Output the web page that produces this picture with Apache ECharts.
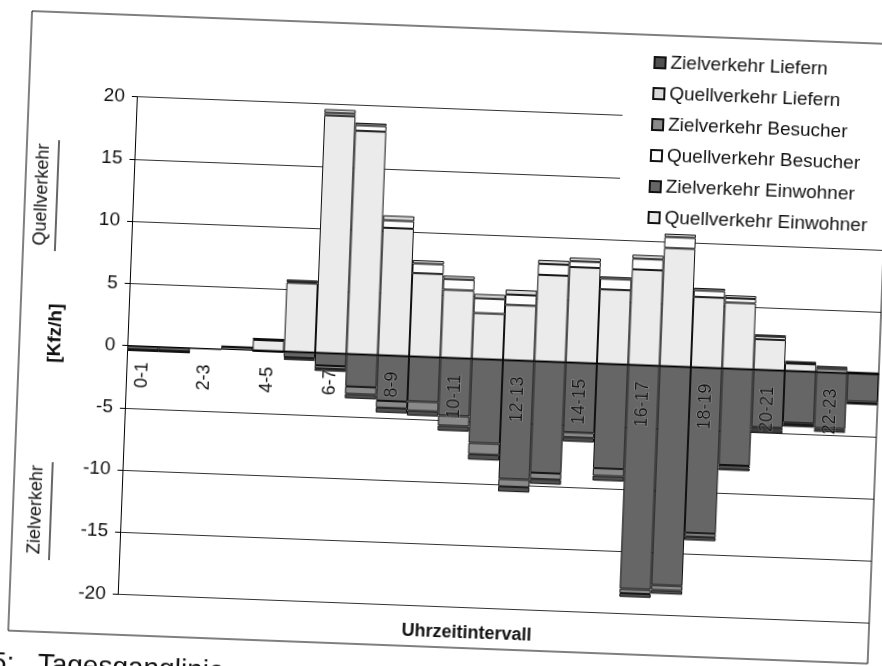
<!DOCTYPE html>
<html>
<head>
<meta charset="utf-8">
<script src="https://cdn.jsdelivr.net/npm/echarts@6/dist/echarts.min.js"></script>
<style>
  html, body { margin: 0; padding: 0; background: #fff; overflow: hidden; width: 882px; height: 666px; }
  #c { position: absolute; left: 0; top: 0; width: 882px; height: 720px;
       transform: rotate(2.2deg); transform-origin: 441px 333px; }
</style>
</head>
<body>
<div id="c"></div>
<script>
// ---- data ----
const categories = ['0-1','1-2','2-3','3-4','4-5','5-6','6-7','7-8','8-9','9-10','10-11','11-12',
                    '12-13','13-14','14-15','15-16','16-17','17-18','18-19','19-20','20-21','21-22','22-23','23-24'];
const qvEinwohner = [0, 0, 0, 0.2, 0.85, 5.55, 19.1, 17.95, 10.25, 6.7, 5.47, 3.69, 4.44, 6.95, 7.67, 5.98, 7.68, 9.5, 5.66, 5.31, 2.46, 0.6, 0.25, 0.05];
const qvBesucher  = [0, 0, 0, 0.03, 0.08, 0.1, 0.2, 0.45, 0.6, 0.78, 0.86, 1.19, 0.83, 0.88, 0.47, 0.86, 0.86, 0.88, 0.53, 0.35, 0.25, 0.1, 0.15, 0.03];
const qvLiefern   = [0, 0, 0, 0.02, 0.07, 0.15, 0.3, 0.2, 0.4, 0.27, 0.27, 0.35, 0.4, 0.32, 0.3, 0.18, 0.32, 0.27, 0.2, 0.24, 0.13, 0.1, 0.1, 0.03];
const zvEinwohner = [-0.3, -0.3, 0, 0, -0.05, -0.45, -1.0, -2.6, -3.65, -3.6, -4.65, -6.75, -9.55, -8.95, -5.6, -8.4, -18.0, -17.6, -13.3, -7.75, -4.6, -4.15, -4.5, -2.25];
const zvBesucher  = [-0.05, -0.05, 0, 0, 0, -0.1, -0.25, -0.6, -0.55, -0.75, -0.8, -0.9, -0.6, -0.5, -0.4, -0.6, -0.35, -0.4, -0.3, -0.2, -0.2, -0.15, -0.15, -0.12];
const zvLiefern   = [-0.05, -0.05, 0, 0, -0.03, -0.1, -0.2, -0.36, -0.4, -0.4, -0.42, -0.45, -0.42, -0.4, -0.35, -0.4, -0.3, -0.3, -0.3, -0.23, -0.25, -0.18, -0.15, -0.12];
const seriesNames = ['Quellverkehr Einwohner','Zielverkehr Einwohner','Quellverkehr Besucher',
                     'Zielverkehr Besucher','Quellverkehr Liefern','Zielverkehr Liefern'];
const legendOrder = ['Zielverkehr Liefern','Quellverkehr Liefern','Zielverkehr Besucher',
                     'Quellverkehr Besucher','Zielverkehr Einwohner','Quellverkehr Einwohner'];
const yTicks = { min: -20, max: 20, interval: 5 };
const yAxisTitle = '[Kfz/h]';
const xAxisTitle = 'Uhrzeitintervall';

// ---- chart ----
const FONT = '"Liberation Sans", Arial, sans-serif';
const fills = ['#ebebeb', '#666666', '#fdfdfd', '#8a8a8a', '#d9d9d9', '#505050'];
const values = [qvEinwohner, zvEinwohner, qvBesucher, zvBesucher, qvLiefern, zvLiefern];

const gridTop = 108.6, gridBottom = 113.5, chartH = 720;
// place the category axis on the zero line (offset measured from the grid bottom)
const plotH = chartH - gridTop - gridBottom;
const zeroOffset = -plotH * (0 - yTicks.min) / (yTicks.max - yTicks.min);

const chart = echarts.init(document.getElementById('c'), null, { renderer: 'canvas' });
chart.setOption({
  animation: false,
  backgroundColor: 'transparent',
  textStyle: { fontFamily: FONT },
  grid: { left: 128, right: 2, top: gridTop, bottom: gridBottom, containLabel: false },
  legend: {
    data: legendOrder,
    orient: 'vertical',
    left: 614, top: 27,
    padding: [18, 60, 6, 29],
    backgroundColor: '#fff',
    itemWidth: 11, itemHeight: 11, itemGap: 12,
    icon: 'rect',
    textStyle: { fontSize: 19, lineHeight: 19, color: '#111', fontFamily: FONT }
  },
  xAxis: {
    type: 'category',
    data: categories,
    z: 10,
    position: 'bottom',
    offset: zeroOffset,
    axisLine: { onZero: false, lineStyle: { color: '#000', width: 1 } },
    axisTick: { show: false },
    axisLabel: {
      interval: 1, rotate: 90, margin: 16, fontSize: 18, color: '#111', fontFamily: FONT,
      textBorderColor: 'rgba(255,255,255,0.35)', textBorderWidth: 1
    },
    splitLine: { show: false }
  },
  yAxis: {
    type: 'value',
    min: yTicks.min, max: yTicks.max, interval: yTicks.interval,
    axisLine: { show: true, lineStyle: { color: '#000', width: 1 } },
    axisTick: { show: true, length: 5, lineStyle: { color: '#000' } },
    axisLabel: { fontSize: 19, color: '#111', margin: 12, fontFamily: FONT },
    splitLine: { show: true, lineStyle: { color: '#333', width: 1 } }
  },
  series: seriesNames.map((name, i) => ({
    name: name,
    type: 'bar',
    stack: 'total',
    barCategoryGap: '0%',
    data: values[i],
    itemStyle: { color: fills[i], borderColor: '#111', borderWidth: 1 }
  })),
  graphic: [
    { type: 'rect', z: 100, silent: true,
      shape: { x: 20, y: 27, width: 860, height: 620 },
      style: { fill: 'none', stroke: '#000', lineWidth: 1 } },
    { type: 'text', z: 100, x: 37, y: 210, rotation: Math.PI / 2,
      style: { text: 'Quellverkehr', fontSize: 18, fontFamily: FONT, fill: '#111', align: 'center', verticalAlign: 'middle' } },
    { type: 'line', z: 100, shape: { x1: 52, y1: 155, x2: 52, y2: 266 }, style: { stroke: '#000', lineWidth: 1.2 } },
    { type: 'text', z: 100, x: 43, y: 525, rotation: Math.PI / 2,
      style: { text: 'Zielverkehr', fontSize: 18, fontFamily: FONT, fill: '#111', align: 'center', verticalAlign: 'middle' } },
    { type: 'line', z: 100, shape: { x1: 58, y1: 477, x2: 58, y2: 575 }, style: { stroke: '#000', lineWidth: 1.2 } },
    { type: 'text', z: 100, x: 56, y: 348, rotation: Math.PI / 2,
      style: { text: yAxisTitle, fontSize: 19, fontWeight: 'bold', fontFamily: FONT, fill: '#111', align: 'center', verticalAlign: 'middle' } },
    { type: 'text', z: 100, x: 478, y: 632,
      style: { text: xAxisTitle, fontSize: 18, fontWeight: 'bold', fontFamily: FONT, fill: '#111', align: 'center', verticalAlign: 'middle' } },
    { type: 'text', z: 100, x: 4, y: 680,
      style: { text: '5:   Tagesganglinie', fontSize: 28, fontFamily: FONT, fill: '#111', align: 'left', verticalAlign: 'middle' } }
  ]
});
</script>
</body>
</html>
